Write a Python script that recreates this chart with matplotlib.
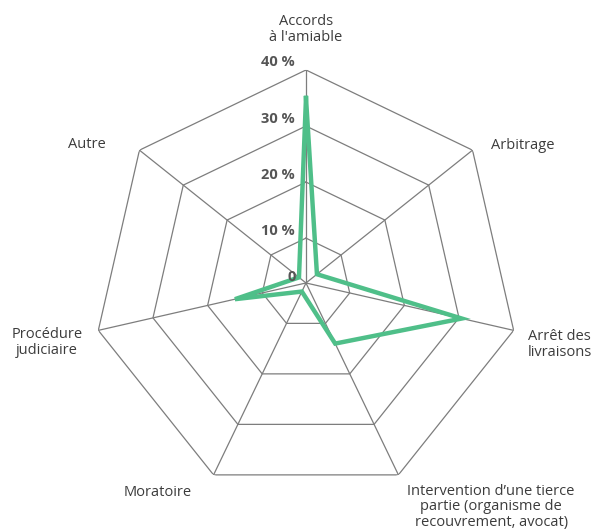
import numpy as np
import matplotlib
matplotlib.use('Agg')
import matplotlib.pyplot as plt

# Données (en %)
categories = ['Accords\nà l\'amiable', 'Arbitrage', 'Arrêt des\nlivraisons',
              'Intervention d\u2019une tierce\npartie (organisme de\nrecouvrement, avocat)',
              'Moratoire', 'Procédure\njudiciaire', 'Autre']
valeurs = [35, 4.5, 30.5, 14, 3.7, 15, 3.6]
anneaux = [10, 20, 30, 40]
etiquettes_anneaux = ['10 %', '20 %', '30 %', '40 %']

vert = '#4fbf89'
gris = '#7d7d7d'
texte = '#555555'
plt.rcParams['font.family'] = ['Open Sans', 'DejaVu Sans']

n = len(categories)
angles = np.linspace(0, 2 * np.pi, n, endpoint=False)
angles_fermes = np.append(angles, angles[0])

fig = plt.figure(figsize=(5.93, 5.32), dpi=100)
ax = fig.add_axes([0.1568, 0.0677, 0.7184, 0.8008], projection='polar')
ax.set_theta_zero_location('N')
ax.set_theta_direction(-1)
ax.set_ylim(2, 40)
ax.grid(False)
ax.spines['polar'].set_visible(False)
ax.set_xticks([])
ax.set_yticks([])
ax.patch.set_alpha(0)

# Grille en heptagones
for r in anneaux:
    ax.plot(angles_fermes, [r] * (n + 1), color=gris, lw=0.9, zorder=1)
for a in angles:
    ax.plot([a, a], [2, 40], color=gris, lw=0.9, zorder=1)

# Série
vals = valeurs + [valeurs[0]]
ax.plot(angles_fermes, vals, color=vert, lw=3.2, solid_joinstyle='miter', zorder=3)

# Étiquettes de l'axe radial (décalage en pixels)
px = 0.72
for r, lab in zip(anneaux, etiquettes_anneaux):
    ax.annotate(lab, xy=(0, r), xytext=(-11 * px, 7.5 * px), textcoords='offset points',
                ha='right', va='center', fontsize=10.5, fontweight='bold', color=texte)
ax.annotate('0', xy=(0, 2), xytext=(-10 * px, 6 * px), textcoords='offset points',
            ha='right', va='center', fontsize=10.5, fontweight='bold', color=texte)

# Étiquettes des catégories : (dx, dy, ha, va, interligne), dx/dy en pixels depuis le sommet extérieur
placement = [
    (0, -25, 'center', 'bottom', 1.12),
    (18, -5, 'left', 'center', 1.12),
    (14, 14, 'left', 'center', 1.12),
    (9, 9, 'left', 'top', 1.04),
    (-22, 18, 'right', 'center', 1.12),
    (-16, 12, 'right', 'center', 1.12),
    (-34, -6, 'right', 'center', 1.12),
]
for a, lab, (dx, dy, ha, va, ls) in zip(angles, categories, placement):
    ax.annotate(lab, xy=(a, 40), xytext=(dx * px, -dy * px), textcoords='offset points',
                ha=ha, va=va, ma='center', fontsize=10.5, color='#3c3c3c',
                linespacing=ls, annotation_clip=False)

fig.savefig('out.png', dpi=100)
